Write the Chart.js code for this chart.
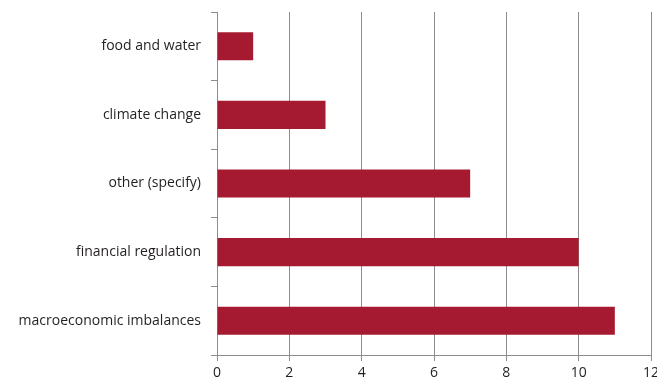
<!DOCTYPE html>
<html>
<head>
<meta charset="utf-8">
<script src="https://cdn.jsdelivr.net/npm/chart.js@4/dist/chart.umd.min.js"></script>
<style>
  html, body { margin: 0; padding: 0; background: #fff; }
  #wrap { width: 657px; height: 383px; }
</style>
</head>
<body>
<div id="wrap"><canvas id="barChart" width="657" height="383"></canvas></div>
<script>
const categories = ['food and water', 'climate change', 'other (specify)', 'financial regulation', 'macroeconomic imbalances'];
const values = [1, 3, 7, 10, 11];
const xTicks = [0, 2, 4, 6, 8, 10, 12];

const ctx = document.getElementById('barChart').getContext('2d');
new Chart(ctx, {
    type: 'bar',
    data: {
        labels: categories,
        datasets: [{
            data: values,
            backgroundColor: '#A51A30',
            borderWidth: 0,
            categoryPercentage: 1,
            barPercentage: 0.41
        }]
    },
    options: {
        indexAxis: 'y',
        responsive: false,
        animation: false,
        layout: { padding: { top: 12, right: 6, bottom: 0, left: 0 } },
        plugins: { legend: { display: false }, tooltip: { enabled: false } },
        scales: {
            x: {
                min: 0,
                max: 12,
                afterBuildTicks: function (scale) {
                    scale.ticks = xTicks.map(v => ({ value: v }));
                },
                afterFit: function (scale) {
                    scale.height = 28;
                    scale.paddingLeft = 0;
                    scale.paddingRight = 0;
                },
                grid: { color: '#8c8c8c', lineWidth: 1, tickLength: 6, drawTicks: true },
                border: { color: '#8c8c8c', width: 1 },
                ticks: { color: '#231f20', font: { family: 'Open Sans', size: 14 }, padding: 4 }
            },
            y: {
                afterFit: function (scale) {
                    scale.width = 217;
                    scale.paddingTop = 0;
                    scale.paddingBottom = 0;
                },
                grid: { offset: true, drawOnChartArea: false, color: '#8c8c8c', tickLength: 6 },
                border: { color: '#8c8c8c', width: 1 },
                ticks: { color: '#231f20', font: { family: 'Open Sans', size: 14 }, padding: 10 }
            }
        }
    }
});
</script>
</body>
</html>
